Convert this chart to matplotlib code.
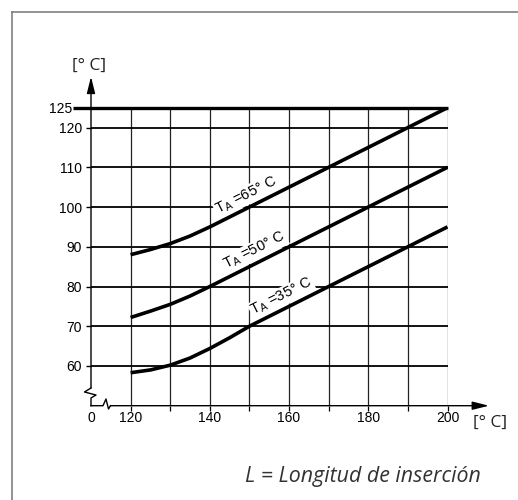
import numpy as np
import matplotlib
matplotlib.use('Agg')
import matplotlib.pyplot as plt
from matplotlib.lines import Line2D

plt.rcParams['font.family'] = ['Liberation Sans', 'DejaVu Sans']
plt.rcParams['mathtext.fontset'] = 'custom'
plt.rcParams['mathtext.rm'] = 'Liberation Sans'
plt.rcParams['mathtext.default'] = 'regular'

# insertion length (x) and fluid temperature curves for ambient T_A
length = [120, 125, 130, 135, 140, 145, 150, 160, 170, 180, 190, 200]
temp_65 = [88.0, 89.3, 90.8, 92.7, 95.0, 97.5, 100.0, 105.0, 110.0, 115.0, 120.0, 125.0]
temp_50 = [72.2, 73.8, 75.5, 77.6, 80.0, 82.5, 85.0, 90.0, 95.0, 100.0, 105.0, 110.0]
temp_35 = [58.3, 59.0, 60.2, 62.0, 64.4, 67.1, 70.0, 75.0, 80.0, 85.0, 90.0, 95.0]
curve_names = ['65', '50', '35']
label_x = [142.9, 145.1, 151.9]
limit_temp = 125

x_ticks = [120, 140, 160, 180, 200]
x_minor = [130, 150, 170, 190]
y_ticks = [60, 70, 80, 90, 100, 110, 120]

W, H = 518, 500
fig = plt.figure(figsize=(W / 100, H / 100), dpi=100)

# axes placed so that x=110..200, y=50..125 fill the grid area
x0p, x1p, y0p, y1p = 91, 447.5, 405.7, 107.7
ax = fig.add_axes([x0p / W, (H - y0p) / H, (x1p - x0p) / W, (y0p - y1p) / H])
ax.set_xlim(110, 200)
ax.set_ylim(50, 125)
for s in ax.spines.values():
    s.set_visible(False)
ax.patch.set_visible(False)

px = 90 / (x1p - x0p)   # data units per pixel
py = 75 / (y0p - y1p)

def d(xp, yp):
    # pixel -> data
    return 110 + (xp - x0p) * px, 50 + (y0p - yp) * py

# grid
ax.vlines(x_ticks + x_minor, 50, limit_temp, color='#222222', lw=0.9, zorder=1)
ax.hlines(y_ticks, 110, 200, color='k', lw=1.3, zorder=1)
ax.plot([110 - 18 * px, 200], [limit_temp, limit_temp], color='k', lw=2.4,
        solid_capstyle='butt', clip_on=False, zorder=3)

# curves
for ys in [temp_65, temp_50, temp_35]:
    ax.plot(length, ys, color='k', lw=2.6, solid_capstyle='butt', zorder=3)

# curve labels (white box hides the grid behind the text)
slope = (temp_65[-1] - temp_65[-4]) / (length[-1] - length[-4])
ang = np.degrees(np.arctan(slope * px / py))
off = 3.5
for ys, name, lx in zip([temp_65, temp_50, temp_35], curve_names, label_x):
    ly = np.interp(lx, length, ys)
    dx = -np.sin(np.radians(ang)) * off * px
    dy = np.cos(np.radians(ang)) * off * py
    ax.text(lx + dx, ly + dy, r'$\mathrm{T_A}$ =' + name + '° C', fontsize=10.5,
            rotation=ang, rotation_mode='anchor', ha='left', va='bottom', zorder=2,
            bbox=dict(facecolor='white', edgecolor='none', pad=0.8))

# axis lines with breaks and arrows
ybreak = [d(91, 388), d(84.5, 392), d(96, 395), d(91, 398), d(91, y0p)]
xbreak = [d(91, y0p), d(103, y0p), d(106, 399), d(108.5, 409), d(110.5, y0p)]
for pts in [ybreak, xbreak]:
    xs, ys = zip(*pts)
    ax.plot(xs, ys, color='k', lw=1.0, clip_on=False)

arrow = dict(arrowstyle='-|>,head_length=1.0,head_width=0.25', color='k', lw=1.0,
             shrinkA=0, shrinkB=0, mutation_scale=10)
ax.annotate('', xy=d(91, 76.7), xytext=d(91, 388), arrowprops=arrow, annotation_clip=False)
ax.annotate('', xy=d(489, y0p), xytext=d(110.5, y0p), arrowprops=arrow, annotation_clip=False)

# ticks
ax.set_xticks([110] + x_ticks, labels=['0'] + [str(v) for v in x_ticks])
ax.set_xticks(x_minor, minor=True)
ax.tick_params(axis='x', which='both', direction='out', length=3.6, width=0.9,
               pad=0.5, labelsize=10)
ax.xaxis.get_major_ticks()[0].tick1line.set_visible(False)

ax.set_yticks(y_ticks + [limit_temp], labels=[str(v) for v in y_ticks] + [str(limit_temp)])
ax.tick_params(axis='y', direction='out', length=3.6, width=1.0, pad=3.0, labelsize=10)
ax.yaxis.get_major_ticks()[-1].set_pad(10.0)

# unit labels and caption
fig.text(89 / W, 1 - 66 / H, '[° C]', family='Open Sans', fontsize=12.5,
         ha='center', va='center', color='#222222')
fig.text(490 / W, 1 - 423 / H, '[° C]', family='Open Sans', fontsize=12.5,
         ha='center', va='center', color='#222222')
fig.text(245 / W, 1 - 481.7 / H, 'L = Longitud de inserción', family='Open Sans',
         style='italic', fontsize=15.4, ha='left', va='baseline', color='#333333')

# outer frame (left and top edges)
fig.add_artist(Line2D([12 / W, 12 / W], [0, 1 - 12 / H], color='#808080', lw=1.2))
fig.add_artist(Line2D([12 / W, 1], [1 - 12 / H, 1 - 12 / H], color='#808080', lw=1.2))

fig.savefig('out.png', dpi=100)
